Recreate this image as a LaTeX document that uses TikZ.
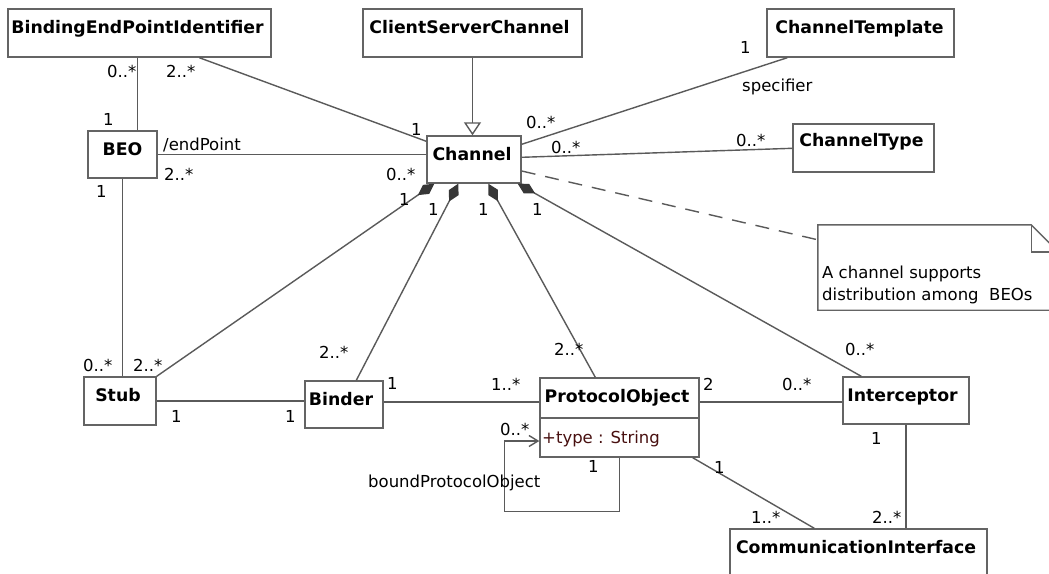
\documentclass[tikz,border=0pt]{standalone}
\usepackage{fontspec}
\setmainfont{DejaVu Sans}
\usetikzlibrary{arrows.meta,calc}
\definecolor{linec}{RGB}{90,90,90}
\definecolor{boxc}{RGB}{100,100,100}
\definecolor{diac}{RGB}{55,55,55}
\definecolor{attrc}{RGB}{72,16,16}
\begin{document}
\begin{tikzpicture}[x=1pt,y=-1pt,
  cls/.style={draw=boxc, line width=1.4pt, fill=white, inner sep=0pt, rectangle},
  cname/.style={font=\bfseries\fontsize{17.3}{20}\selectfont, anchor=base, inner sep=0pt},
  lab/.style={font=\fontsize{16.5}{19}\selectfont, anchor=base west, inner sep=0pt},
  assoc/.style={draw=linec, line width=1.4pt},
  comp/.style={assoc, arrows={Diamond[length=20pt,width=11pt,fill=diac,color=diac]-}},
  gen/.style={assoc, arrows={-Triangle[open,length=13pt,width=17pt,fill=white]}},
  nav/.style={assoc, arrows={-Straight Barb[length=9pt,width=11pt]}},
  dep/.style={draw=linec, line width=1.4pt, dash pattern=on 14pt off 10pt}
  ]
\useasboundingbox (0,0) rectangle (1049,573);
\fill[white] (0,0) rectangle (1049,573);

% class boxes
\node[cls, minimum width=263pt, minimum height=48pt] (bepi) at (139.5,33) {};
\node[cls, minimum width=219pt, minimum height=48pt] (csc) at (472.5,33) {};
\node[cls, minimum width=187pt, minimum height=48pt] (ctmp) at (860.5,33) {};
\node[cls, minimum width=141pt, minimum height=48pt] (ctype) at (863.5,148) {};
\node[cls, minimum width=94pt, minimum height=47pt] (chan) at (474,159.5) {};
\node[cls, minimum width=69pt, minimum height=47pt] (beo) at (122.5,154.5) {};
\node[cls, minimum width=72pt, minimum height=48pt] (stub) at (120,401) {};
\node[cls, minimum width=78pt, minimum height=47pt] (binder) at (344,404.5) {};
\node[cls, minimum width=159pt, minimum height=79pt] (po) at (619.5,417.5) {};
\node[cls, minimum width=126pt, minimum height=47pt] (icp) at (906,400.5) {};
\node[cls, minimum width=257pt, minimum height=48pt] (ci) at (858.5,553) {};
\draw[draw=boxc, line width=1.4pt] ([yshift=-0.5pt]po.west) -- ([yshift=-0.5pt]po.east);

% class names
\node[cname] (bepit) at (137.5,33) {BindingEndPointIdentifier};
\node[cname] (csct) at (469.5,33) {ClientServerChannel};
\node[cname] (ctmpt) at (859.5,33) {ChannelTemplate};
\node[cname] (ctypet) at (861.5,146.5) {ChannelType};
\node[cname] (chant) at (472,160.5) {Channel};
\node[cname] (beot) at (122.5,155) {BEO};
\node[cname] (stubt) at (118,401) {Stub};
\node[cname] (bindert) at (341,405) {Binder};
\node[cname] (pot) at (617,402) {ProtocolObject};
\node[cname] (icpt) at (902.5,401) {Interceptor};
\node[cname] (cit) at (856,553) {CommunicationInterface};
\node[lab, text=attrc] (poattr) at (542,443) {+type : String};

% note
\node[inner sep=0pt, minimum width=240pt, minimum height=85pt] (note) at (938,267.5) {};
\draw[draw=boxc, line width=1.4pt, fill=white] (note.north west) -- ([xshift=-27pt]note.north east) -- ([yshift=-27pt]note.north east) -- (note.south east) -- (note.south west) -- cycle;
\draw[draw=boxc, line width=1.4pt] ([xshift=-27pt]note.north east) |- ([yshift=-27pt]note.north east);
\node[lab] (notet1) at (822,278) {A channel supports};
\node[lab] (notet2) at (822,300) {distribution among~~BEOs};

% connectors
\draw[assoc] ([xshift=50pt]beo.north west) -- ([xshift=50pt]beo.north west |- bepi.south);
\draw[assoc] ([xshift=192pt]bepi.south west) -- ([yshift=-6pt]chan.north west);
\draw[gen] (csc.south) -- (csc.south |- chan.north);
\draw[assoc] ([xshift=21pt]ctmp.south west) -- ([yshift=-9pt]chan.north east);
\draw[assoc] ([yshift=-22pt]chan.north east) -- ([yshift=-25pt]ctype.north west);
\draw[assoc] (beo.east) -- (beo.east -| chan.west);
\draw[assoc] (beo.south) -- (beo.south |- stub.north);
\draw[comp] ([xshift=8pt]chan.south west) -- (stub.north east);
\draw[comp] ([xshift=32pt]chan.south west) -- ([xshift=52pt]binder.north west);
\draw[comp] ([xshift=62pt]chan.south west) -- ([xshift=56pt]po.north west);
\draw[comp] ([xshift=-4pt]chan.south east) -- ([xshift=19pt]icp.north west);
\draw[assoc] (stub.east) -- (stub.east -| binder.west);
\draw[assoc] ([yshift=2.5pt]binder.east) -- ([yshift=2.5pt]binder.east -| po.west);
\draw[assoc] ([yshift=-1.5pt]icp.west) -- ([yshift=-1.5pt]icp.west -| po.east);
\draw[nav] (po.south) -- ++(0,54) -- ++(-115,0) |- ([yshift=-23.5pt]po.west);
\draw[assoc] ([xshift=-7pt]po.south east) -- ([xshift=85pt]ci.north west);
\draw[assoc] (icp.south) -- (icp.south |- ci.north);
\draw[dep] ([yshift=-11.5pt]chan.east) -- ([yshift=-15pt]note.north west);

% multiplicities and role names
\node[lab] (m1) at (107,77) {0..*};
\node[lab] (m2) at (103,125) {1};
\node[lab] (m3) at (166,77) {2..*};
\node[lab] (m4) at (411,135) {1};
\node[lab] (m5) at (740,53) {1};
\node[lab] (m6) at (742,91) {specifier};
\node[lab] (m7) at (526,128) {0..*};
\node[lab] (m8) at (551,153) {0..*};
\node[lab] (m9) at (736,146) {0..*};
\node[lab] (m10) at (163,150) {/endPoint};
\node[lab] (m11) at (164,180) {2..*};
\node[lab] (m12) at (386,180) {0..*};
\node[lab] (m13) at (96,197) {1};
\node[lab] (m14) at (83,371) {0..*};
\node[lab] (m15) at (133,371) {2..*};
\node[lab] (m16) at (399,205) {1};
\node[lab] (m17) at (428,215) {1};
\node[lab] (m18) at (319,358) {2..*};
\node[lab] (m19) at (478,215) {1};
\node[lab] (m20) at (554,355) {2..*};
\node[lab] (m21) at (532,215) {1};
\node[lab] (m22) at (845,355) {0..*};
\node[lab] (m23) at (171,422) {1};
\node[lab] (m24) at (285,422) {1};
\node[lab] (m25) at (387,389) {1};
\node[lab] (m26) at (491,390) {1..*};
\node[lab] (m27) at (703,390) {2};
\node[lab] (m28) at (782,390) {0..*};
\node[lab] (m29) at (500,435) {0..*};
\node[lab] (m30) at (588,472) {1};
\node[lab] (m31) at (368,487) {boundProtocolObject};
\node[lab] (m32) at (714,473) {1};
\node[lab] (m33) at (751,523) {1..*};
\node[lab] (m34) at (871,444) {1};
\node[lab] (m35) at (872,523) {2..*};
\end{tikzpicture}
\end{document}
